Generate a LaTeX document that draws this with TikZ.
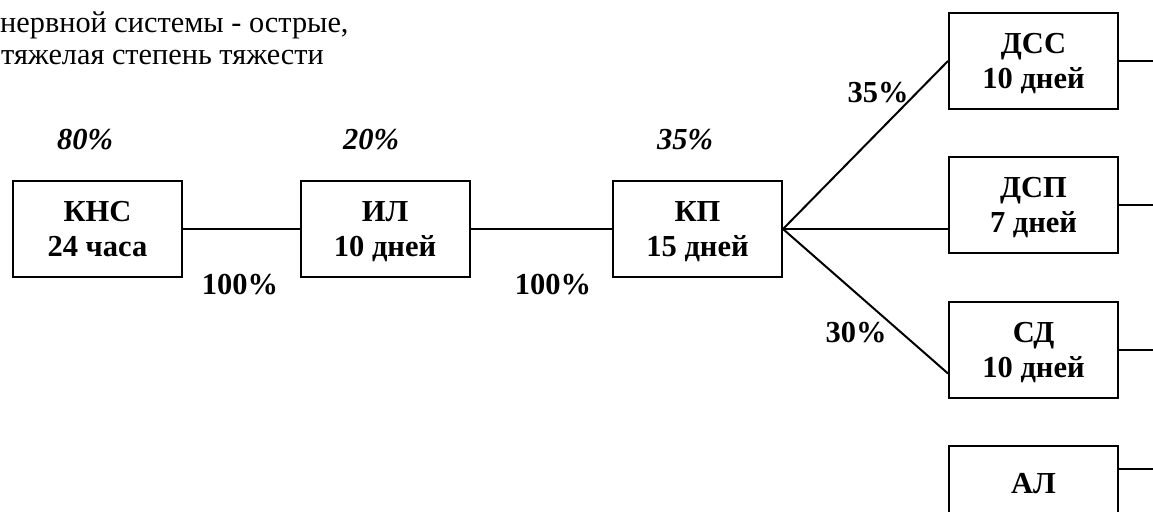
\documentclass[tikz,border=0pt]{standalone}
\usepackage{fontspec}
\setmainfont{Liberation Serif}
\usetikzlibrary{calc}
\begin{document}
\begin{tikzpicture}[x=1pt,y=-1pt,
  box/.style={draw, line width=2pt, minimum width=169pt, minimum height=96pt,
    inner sep=0pt, align=center, text depth=0pt,
    font=\fontsize{30.5}{35}\selectfont\bfseries},
  conn/.style={line width=2pt},
  pct/.style={font=\fontsize{30.5}{35}\selectfont\bfseries\itshape, inner sep=0pt, anchor=base},
  lbl/.style={font=\fontsize{30.5}{35}\selectfont\bfseries, inner sep=0pt, anchor=base},
  note/.style={font=\fontsize{30.3}{33}\selectfont, inner sep=0pt, anchor=base west}]
\useasboundingbox (0,0) rectangle (1153,511);
\coordinate (R) at (1153,0);

% heading text (cut off at the left and top)
\node[note] (t2) at (0,33) {нервной системы - острые,};
\node[note] (t3) at (1,64) {тяжелая степень тяжести};

% boxes
\node[box] (KNS) at (97.5,229) {КНС\\24 часа};
\node[box] (IL)  at (385,229) {ИЛ\\10 дней};
\node[box] (KP)  at (697.5,229) {КП\\15 дней};
\node[box] (DSS) at (1033.5,61) {ДСС\\10 дней};
\node[box] (DSP) at (1033.5,205) {ДСП\\7 дней};
\node[box] (SD)  at (1033.5,349.5) {СД\\10 дней};
\node[box] (AL)  at (1033.5,494) {};
\node[lbl] (ALt) at (1033.5,493) {АЛ};

% connectors
\draw[conn] (KNS.east) -- (IL.west);
\draw[conn] (IL.east) -- (KP.west);
\draw[conn] (KP.east) -- (DSS.west);
\draw[conn] (KP.east) -- (KP.east -| DSP.west);
\draw[conn] (KP.east) -- ([yshift=-24pt]SD.west);
\draw[conn] (DSS.east) -- (DSS.east -| R);
\draw[conn] (DSP.east) -- (DSP.east -| R);
\draw[conn] (SD.east) -- (SD.east -| R);
\draw[conn] ([yshift=25pt]AL.east) coordinate (ALs) -- (ALs -| R);

% percentages
\node[pct] (p80) at (85,149) {80\%};
\node[pct] (p20) at (371,149) {20\%};
\node[pct] (p35) at (685,149) {35\%};
\node[lbl] (q1) at (240,294) {100\%};
\node[lbl] (q2) at (553,294) {100\%};
\node[lbl] (r35) at (878,102) {35\%};
\node[lbl] (r30) at (856,342) {30\%};
\end{tikzpicture}
\end{document}
